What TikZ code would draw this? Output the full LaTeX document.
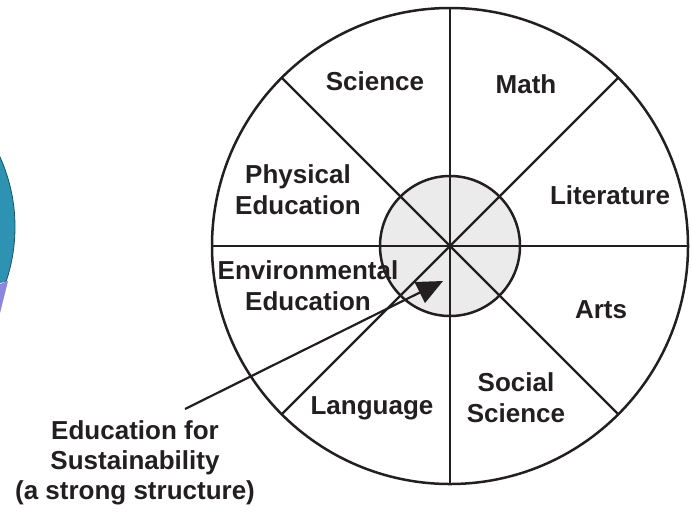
\documentclass[tikz,border=0pt]{standalone}
\usepackage{fontspec}
\setmainfont{Liberation Sans}
\usetikzlibrary{arrows.meta}

\definecolor{hubgray}{HTML}{EBEBEB}
\definecolor{globeteal}{HTML}{2E93B3}
\definecolor{globeviolet}{HTML}{8C86E0}
\definecolor{ink}{HTML}{231F20}

\begin{document}
\begin{tikzpicture}[
  x=1pt,y=-1pt,
  every node/.style={font=\bfseries\fontsize{26}{31}\selectfont,text=ink,align=center,anchor=base,inner sep=0pt},
  rim/.style={draw=ink,line width=2.5pt},
  spoke/.style={draw=ink,line width=2.3pt},
  pointer/.style={-{Triangle[length=26pt,width=23pt]},line width=2.2pt,draw=ink,fill=ink}
]
  \fill[white] (0,0) rectangle (692,512);
  \useasboundingbox (0,0) rectangle (692,512);
  % cut-off globe at the left edge
  \begin{scope}
    \clip (0,0) -- (40,0) -- (40,275) -- (0,283) -- cycle;
    \filldraw[fill=globeteal,draw=globeteal!55!black,line width=0.8pt] (-155,227) circle[radius=170pt];
  \end{scope}
  \fill[globeviolet] (0,284) -- (8,281) -- (4,297) -- (0,313) -- cycle;
  % the wheel
  \coordinate (hub) at (450,246);
  \draw[rim,fill=white] (hub) circle[radius=238pt];
  \draw[rim,fill=hubgray] (hub) circle[radius=70pt];
  \foreach \a in {0,45,...,315}
    \draw[spoke] (hub) -- ++(\a:238);
  % subjects (multi-line nodes sit on their last baseline)
  \node (science) at (375,90) {Science};
  \node (math) at (526,93) {Math};
  \node (literature) at (610,204) {Literature};
  \node (arts) at (601,318) {Arts};
  \node (physical) at (298,214) {Physical\\Education};
  \node (environmental) at (308,310) {Environmental\\Education};
  \node (language) at (372,414) {Language};
  \node (social) at (516,422) {Social\\Science};
  % pointer to the hub
  \node[font=\bfseries\fontsize{26}{30}\selectfont] (efs) at (135,499) {Education for\\Sustainability\\(a strong structure)};
  \coordinate (tail) at (185,409);
  \coordinate (tip) at (443,281);
  \draw[pointer] (tail) -- (tip);
\end{tikzpicture}
\end{document}
